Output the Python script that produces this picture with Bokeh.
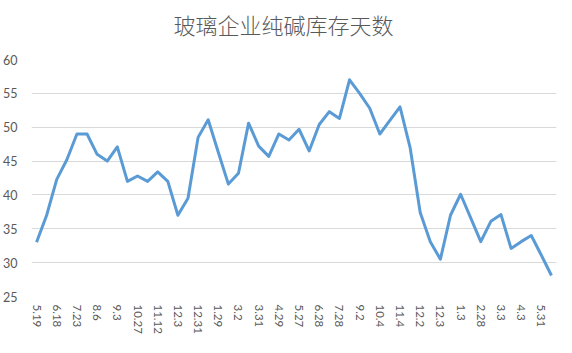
from bokeh.plotting import figure
from bokeh.models import FixedTicker, Range1d, SingleIntervalTicker, Title
from bokeh.embed import file_html
from bokeh.resources import INLINE

title_text = "玻璃企业纯碱库存天数"

tick_labels = ["5.19", "6.18", "7.23", "8.6", "9.3", "10.27", "11.12", "12.3",
               "12.31", "1.29", "3.2", "3.31", "4.29", "5.27", "6.28", "7.28",
               "9.2", "10.4", "11.4", "12.2", "12.3", "1.3", "2.28", "3.3",
               "4.3", "5.31"]

values = [33, 37, 42.3, 45.2, 49, 49, 46, 45, 47.1, 42,
          42.8, 42, 43.4, 42, 37, 39.5, 48.5, 51.1, 46.3, 41.6,
          43.2, 50.6, 47.2, 45.7, 49, 48.1, 49.7, 46.5, 50.4, 52.3,
          51.3, 57, 55, 52.8, 49, 51, 53, 47, 37.4, 33.1,
          30.5, 37, 40.1, 36.6, 33.1, 36.1, 37.1, 32.1, 33.1, 34,
          31.1, 28.1]

xs = list(range(len(values)))
tick_pos = [2 * i for i in range(len(tick_labels))]

p = figure(width=572, height=353, output_backend="svg", toolbar_location=None,
           x_range=Range1d(-0.5, len(values) - 0.5), y_range=Range1d(25, 60),
           min_border_left=31, min_border_right=16, min_border_top=59,
           min_border_bottom=57, title=title_text)
p.outline_line_color = None
p.background_fill_color = "white"
p.border_fill_color = "white"

# spacer between the frame and the title
spacer = Title(text=" ", text_font_size="1px", standoff=12)
p.add_layout(spacer, "above")

p.title.align = "left"
p.title.vertical_align = "bottom"
p.title.text_font = "'Noto Sans CJK SC Light', 'Noto Sans CJK SC DemiLight', 'Noto Sans CJK SC'"
p.title.text_font_size = "22px"
p.title.text_font_style = "normal"
p.title.text_color = "#595959"
p.title.standoff = 10
p.title.offset = 142

p.line(xs, values, line_color="#5B9BD5", line_width=3, line_join="round")

p.xgrid.grid_line_color = None
p.ygrid.grid_line_color = "#D9D9D9"
p.ygrid.grid_line_width = 1

p.yaxis.ticker = SingleIntervalTicker(interval=5)
p.yaxis.axis_line_color = None
p.yaxis.major_tick_line_color = None
p.yaxis.minor_tick_line_color = None
p.yaxis.major_tick_out = 0
p.yaxis.major_label_standoff = 10
p.yaxis.major_label_text_font = "Lato"
p.yaxis.major_label_text_font_size = "12.5px"
p.yaxis.major_label_text_color = "#595959"

p.xaxis.ticker = FixedTicker(ticks=tick_pos)
p.xaxis.major_label_overrides = {tp: lab for tp, lab in zip(tick_pos, tick_labels)}
p.xaxis.major_label_orientation = "vertical"
p.xaxis.axis_line_color = None
p.xaxis.major_tick_line_color = None
p.xaxis.minor_tick_line_color = None
p.xaxis.major_tick_out = 0
p.xaxis.major_label_standoff = 8
p.xaxis.major_label_text_font = "Lato"
p.xaxis.major_label_text_font_size = "11.5px"
p.xaxis.major_label_text_color = "#595959"

open("out.html", "w").write(file_html(p, INLINE))
